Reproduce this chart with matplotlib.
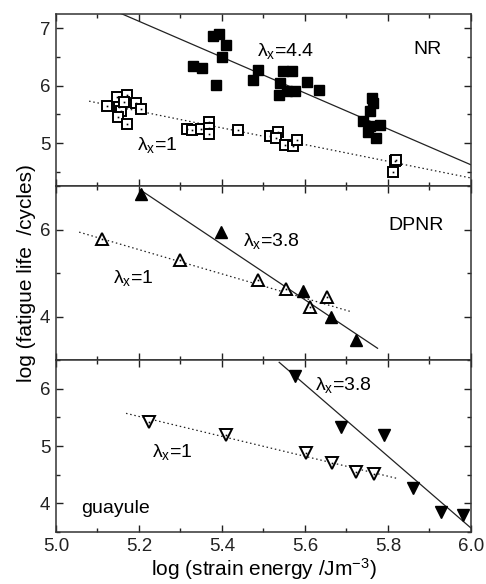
import numpy as np
import matplotlib
matplotlib.use("Agg")
import matplotlib.pyplot as plt
from matplotlib.ticker import MultipleLocator

plt.rcParams['font.family'] = ['Liberation Sans', 'DejaVu Sans']
plt.rcParams['mathtext.fontset'] = 'custom'
plt.rcParams['mathtext.rm'] = 'Liberation Sans'
plt.rcParams['mathtext.it'] = 'Liberation Sans'
plt.rcParams['font.size'] = 13

# NR, lambda_x = 4.4 (filled squares)
nr_hi_x = [5.379, 5.392, 5.41, 5.40, 5.331, 5.351, 5.385, 5.475, 5.487, 5.548, 5.568,
           5.54, 5.538, 5.556, 5.576, 5.606, 5.634, 5.761, 5.763, 5.758, 5.741, 5.757,
           5.781, 5.753, 5.771]
nr_hi_y = [6.87, 6.90, 6.71, 6.50, 6.34, 6.30, 6.02, 6.10, 6.28, 6.25, 6.25,
           6.05, 5.84, 5.90, 5.91, 6.065, 5.92, 5.79, 5.70, 5.55, 5.38, 5.29,
           5.32, 5.19, 5.09]
# NR, lambda_x = 1 (open squares)
nr_lo_x = [5.122, 5.148, 5.172, 5.153, 5.158, 5.150, 5.172, 5.194, 5.206, 5.165,
           5.317, 5.329, 5.349, 5.369, 5.369, 5.369, 5.438,
           5.517, 5.536, 5.530, 5.552, 5.572, 5.582,
           5.817, 5.813, 5.820]
nr_lo_y = [5.65, 5.80, 5.84, 5.63, 5.55, 5.46, 5.34, 5.70, 5.59, 5.72,
           5.24, 5.22, 5.24, 5.37, 5.27, 5.15, 5.23,
           5.12, 5.19, 5.09, 4.97, 4.94, 5.06,
           4.68, 4.50, 4.70]

# DPNR
dp_hi_x = [5.206, 5.399, 5.596, 5.663, 5.723]
dp_hi_y = [6.81, 5.94, 4.58, 4.00, 3.46]
dp_lo_x = [5.112, 5.299, 5.488, 5.554, 5.654, 5.612]
dp_lo_y = [5.78, 5.31, 4.85, 4.63, 4.45, 4.22]

# guayule
gu_hi_x = [5.576, 5.688, 5.790, 5.861, 5.929, 5.981]
gu_hi_y = [6.23, 5.33, 5.19, 4.26, 3.85, 3.80]
gu_lo_x = [5.225, 5.411, 5.602, 5.666, 5.724, 5.767]
gu_lo_y = [5.42, 5.19, 4.88, 4.70, 4.55, 4.51]

# fit lines: (x start, x end, y at start, y at end)
nr_hi_fit = (5.0, 6.0, 7.75, 4.62)
nr_lo_fit = (5.08, 6.0, 5.73, 4.39)
dp_hi_fit = (5.202, 5.775, 6.92, 3.27)
dp_lo_fit = (5.056, 5.708, 5.94, 4.12)
gu_hi_fit = (5.538, 6.0, 6.46, 3.57)
gu_lo_fit = (5.169, 5.825, 5.57, 4.43)

fig = plt.figure(figsize=(4.86, 5.84), dpi=100)
gs = fig.add_gridspec(3, 1, left=0.115, right=0.969, bottom=0.089, top=0.976,
                      hspace=0, height_ratios=[172, 174, 172])
axs = [fig.add_subplot(gs[i]) for i in range(3)]


def fitline(ax, f, ls):
    ax.plot([f[0], f[1]], [f[2], f[3]], color='#222222', lw=0.9, ls=ls,
            dashes=(1.2, 2.2) if ls == ':' else (None, None), zorder=1)


def openpts(ax, x, y, m, ms):
    ax.plot(x, y, m, ms=ms, mfc='white', mec='black', mew=1.4, ls='none', zorder=2)
    ax.plot(x, y, 's', ms=1.2, mfc='black', mec='black', mew=0, ls='none', zorder=3)


fs_txt = 14

ax = axs[0]
fitline(ax, nr_hi_fit, '-')
fitline(ax, nr_lo_fit, ':')
openpts(ax, nr_lo_x, nr_lo_y, 's', 6.5)
ax.plot(nr_hi_x, nr_hi_y, 's', ms=7.5, color='black', ls='none', zorder=2)
ax.set_ylim(4.25, 7.25)
ax.yaxis.set_major_locator(MultipleLocator(1))
ax.yaxis.set_minor_locator(MultipleLocator(0.5))
ax.text(5.484, 6.51, r'λ$_\mathregular{x}$=4.4', fontsize=fs_txt)
ax.text(5.862, 6.56, 'NR', fontsize=fs_txt)
ax.text(5.195, 4.88, r'λ$_\mathregular{x}$=1', fontsize=fs_txt)

ax = axs[1]
fitline(ax, dp_hi_fit, '-')
fitline(ax, dp_lo_fit, ':')
openpts(ax, dp_lo_x, dp_lo_y, '^', 8)
ax.plot(dp_hi_x, dp_hi_y, '^', ms=8.5, color='black', ls='none', zorder=2)
ax.set_ylim(3.0, 7.0)
ax.yaxis.set_major_locator(MultipleLocator(2))
ax.yaxis.set_minor_locator(MultipleLocator(1))
ax.text(5.451, 5.61, r'λ$_\mathregular{x}$=3.8', fontsize=fs_txt)
ax.text(5.800, 6.0, 'DPNR', fontsize=fs_txt)
ax.text(5.137, 4.78, r'λ$_\mathregular{x}$=1', fontsize=fs_txt)
ax.set_ylabel('log (fatigue life  /cycles)', fontsize=15, labelpad=3)

ax = axs[2]
fitline(ax, gu_hi_fit, '-')
fitline(ax, gu_lo_fit, ':')
openpts(ax, gu_lo_x, gu_lo_y, 'v', 8)
ax.plot(gu_hi_x, gu_hi_y, 'v', ms=8.5, color='black', ls='none', zorder=2)
ax.set_ylim(3.5, 6.5)
ax.yaxis.set_major_locator(MultipleLocator(1))
ax.yaxis.set_minor_locator(MultipleLocator(0.5))
ax.text(5.624, 5.97, r'λ$_\mathregular{x}$=3.8', fontsize=fs_txt)
ax.text(5.231, 4.81, r'λ$_\mathregular{x}$=1', fontsize=fs_txt)
ax.text(5.06, 3.83, 'guayule', fontsize=fs_txt)
ax.set_xlabel(r'log (strain energy /Jm$^{\mathregular{-3}}$)', fontsize=15, labelpad=1)

for i, ax in enumerate(axs):
    ax.set_xlim(5.0, 6.0)
    ax.xaxis.set_major_locator(MultipleLocator(0.2))
    ax.xaxis.set_minor_locator(MultipleLocator(0.1))
    ax.tick_params(which='both', direction='in', top=True, right=True, width=1.0,
                   labelsize=13.5, colors='#222222')
    ax.tick_params(which='major', length=5, pad=4)
    ax.tick_params(which='minor', length=3)
    if i < 2:
        ax.tick_params(labelbottom=False)
    for s in ax.spines.values():
        s.set_linewidth(1.1)
        s.set_color('#333333')
axs[2].xaxis.set_major_formatter(matplotlib.ticker.FormatStrFormatter('%.1f'))

fig.savefig('out.png', dpi=100)
